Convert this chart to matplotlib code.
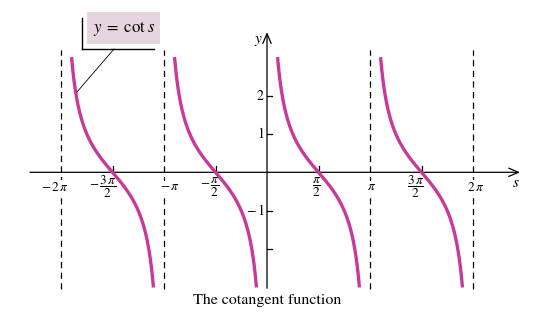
import numpy as np
import matplotlib
matplotlib.use("Agg")
import matplotlib.pyplot as plt
from matplotlib.patches import Rectangle
from matplotlib.transforms import offset_copy

plt.rcParams['mathtext.fontset'] = 'stix'
plt.rcParams['font.family'] = ['STIXGeneral', 'DejaVu Serif']

# ---- data ----
branch_starts = [-2, -1, 0, 1]           # branches between k*pi and (k+1)*pi
y_clip = 3.0                             # curves drawn for |cot s| <= 3
asymptotes = [-2, -1, 1, 2]              # multiples of pi (dashed lines)
xtick_pos = [-1.5, -0.5, 0.5, 1.5]       # multiples of pi (small ticks)
xlabel_pos = [-2, -1.5, -1, -0.5, 0.5, 1, 1.5, 2]
xlabel_txt = [r'$-\,2\,\pi$', r'$-\,\dfrac{3\,\pi}{2}$', r'$-\,\pi$', r'$-\,\dfrac{\pi}{2}$',
              r'$\dfrac{\pi}{2}$', r'$\pi$', r'$\dfrac{3\,\pi}{2}$', r'$2\,\pi$']
ytick_pos = [-2, -1, 1, 2]
ylabel_pos = [-1, 1, 2]
ylabel_txt = [r'$-\,1$', r'$1$', r'$2$']
title = 'The cotangent function'
curve_label = r'$y\;=\;\mathrm{cot}\ s$'

# layout: horizontal nudges of the x labels (pixels)
xlabel_nudge = [-6, -10, 6, -6, -2, 2, -6, 3]

W, H = 548, 328
fig = plt.figure(figsize=(W / 100, H / 100), dpi=100)
ax = fig.add_axes([0, 0, 1, 1])
ax.set_axis_off()

# pixel mapping: origin at (267, 172.3); pi = 103 px; 1 unit = 38.4 px
x0, y0, pxpi, pxu = 267.0, 172.3, 103.0, 38.4
ax.set_xlim((0 - x0) / pxpi * np.pi, (W - x0) / pxpi * np.pi)
ax.set_ylim((y0 - H) / pxu, y0 / pxu)

def fp(px, py):
    return (px / W, 1 - py / H)

color = '#c73a9c'
for k in branch_starts:
    a = k * np.pi + np.arctan(1 / y_clip)
    b = (k + 1) * np.pi - np.arctan(1 / y_clip)
    s = np.linspace(a, b, 400)
    ax.plot(s, np.cos(s) / np.sin(s), color=color, lw=2.4, solid_capstyle='butt', zorder=3)

for k in asymptotes:
    ax.plot([k * np.pi, k * np.pi], [-3.05, 3.18], color='black', lw=0.9,
            dashes=(5, 3.5), zorder=1)

# axes with arrows
ax.annotate('', xy=((520 - x0) / pxpi * np.pi, 0), xytext=((30 - x0) / pxpi * np.pi, 0),
            arrowprops=dict(arrowstyle='->,head_length=0.7,head_width=0.3', lw=0.9, color='black',
                            shrinkA=0, shrinkB=0), zorder=2)
ax.annotate('', xy=(0, 3.65), xytext=(0, -3.02),
            arrowprops=dict(arrowstyle='->,head_length=0.7,head_width=0.3', lw=0.9, color='black',
                            shrinkA=0, shrinkB=0), zorder=2)

# x ticks
for t in xtick_pos:
    ax.plot([t * np.pi, t * np.pi], [0, 0.16], color='black', lw=0.9, zorder=2)
for t, lab, dx in zip(xlabel_pos, xlabel_txt, xlabel_nudge):
    tr = offset_copy(ax.transData, fig=fig, x=dx, y=0, units='dots')
    ax.text(t * np.pi, -0.39, lab, ha='center', va='center', fontsize=9.5, zorder=1.5,
            transform=tr, bbox=dict(facecolor='white', edgecolor='none', pad=0.3))

# y ticks
for t in ytick_pos:
    ax.plot([0, 0.15], [t, t], color='black', lw=0.9, zorder=2)
for t, lab in zip(ylabel_pos, ylabel_txt):
    ax.text(-0.08, t, lab, ha='right', va='center', fontsize=10)

ax.text(*fp(258, 41), r'$y$', transform=fig.transFigure, ha='center', va='center', fontsize=11)
ax.text(*fp(516, 183), r'$s$', transform=fig.transFigure, ha='center', va='center', fontsize=11)

# label box
bx0, by0 = fp(87, 44)
bx1, by1 = fp(160, 12)
ax.add_patch(Rectangle((bx0, by0), bx1 - bx0, by1 - by0, transform=fig.transFigure,
                       facecolor='#e6d5df', edgecolor='none', zorder=1))
ax.text(*fp(125, 28), curve_label, transform=fig.transFigure, ha='center', va='center',
        fontsize=12, zorder=5)
for (p1, p2, lw) in [((81.5, 18), (81.5, 49), 1.0), ((81.5, 49), (154, 49), 1.0),
                     ((114, 49), (77, 92), 0.6)]:
    xa, ya = fp(*p1)
    xb, yb = fp(*p2)
    ax.plot([xa, xb], [ya, yb], transform=fig.transFigure, color='black', lw=lw, zorder=4)

ax.text(*fp(267, 300), title, transform=fig.transFigure, ha='center', va='center', fontsize=11.5)

fig.savefig('out.png', dpi=100)
